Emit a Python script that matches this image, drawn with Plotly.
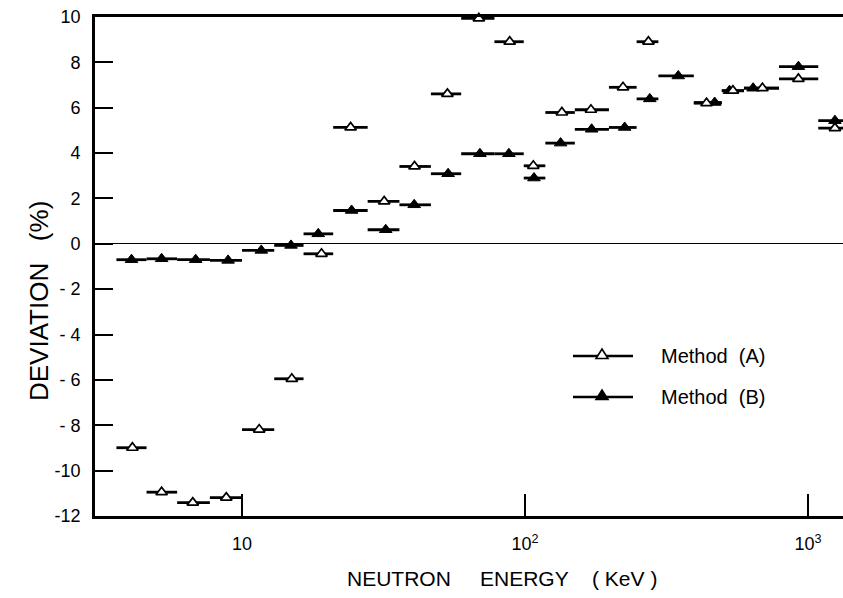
import plotly.graph_objects as go

# ---- data ----
bin_edges = [3.6, 4.6, 5.9, 7.7, 10, 13, 16.5, 21, 27.8, 36, 46.5, 59.5, 78, 99,
             118, 150, 198, 248, 296, 395, 496, 594, 790, 1087, 1430]

energy_a = [4.1, 5.2, 6.7, 8.8, 11.5, 15.0, 19.1, 24.2, 31.8, 40.7, 53.2, 68.7,
            88.3, 107, 135, 171, 222, 273, 348, 438, 543, 690, 925, 1245]
dev_a = [-8.99, -10.95, -11.41, -11.19, -8.19, -5.95, -0.44, 5.13, 1.87, 3.41,
         6.61, 9.94, 8.91, 3.44, 5.79, 5.91, 6.90, 8.91, 10.13, 6.20, 6.75,
         6.86, 7.27, 5.10]

energy_b = [4.07, 5.2, 6.86, 8.93, 11.7, 14.9, 18.6, 24.4, 32.2, 40.6, 53.5, 69.3,
            87.7, 107.6, 133.6, 172, 225, 276, 348, 468, 528, 640, 925, 1245]
dev_b = [-0.70, -0.66, -0.70, -0.73, -0.29, -0.07, 0.44, 1.47, 0.62, 1.72, 3.09,
         3.97, 3.97, 2.90, 4.44, 5.05, 5.13, 6.39, 7.40, 6.23, 6.75, 6.86, 7.81,
         5.43]

y_tickvals = [10, 8, 6, 4, 2, 0, -2, -4, -6, -8, -10, -12]
y_ticktext = ["10", "8", "6", "4", "2", "0", "- 2", "- 4", "- 6", "- 8", "-10", "-12"]
x_tickvals = [10, 100, 1000]
x_ticktext = ["10", "10<sup>2</sup>", "10<sup>3</sup>"]
legend_names = ["Method\u00a0\u00a0(A)", "Method\u00a0\u00a0(B)"]

FONT = "Liberation Sans, Arial, sans-serif"

# ---- layout geometry (pixels) ----
W, H = 843, 598
ML, MR, MT, MB = 95, 0, 17, 82
PW, PH = W - ML - MR, H - MT - MB


def px2paper_x(px):
    return (px - ML) / PW


def px2paper_y(py):
    return (H - MB - py) / PH


def errs(xs):
    lo = [x - bin_edges[i] for i, x in enumerate(xs)]
    hi = [bin_edges[i + 1] - x for i, x in enumerate(xs)]
    return lo, hi


lo_a, hi_a = errs(energy_a)
lo_b, hi_b = errs(energy_b)

fig = go.Figure()
fig.add_trace(go.Scatter(
    x=energy_b, y=dev_b, mode="markers", name=legend_names[1],
    marker=dict(symbol="triangle-up", size=11, color="black",
                line=dict(color="black", width=1)),
    error_x=dict(type="data", symmetric=False, array=hi_b, arrayminus=lo_b,
                 width=0, thickness=2.8, color="black"),
    cliponaxis=False, showlegend=False))
fig.add_trace(go.Scatter(
    x=energy_a, y=dev_a, mode="markers", name=legend_names[0],
    marker=dict(symbol="triangle-up", size=10, color="white",
                line=dict(color="black", width=1.7)),
    error_x=dict(type="data", symmetric=False, array=hi_a, arrayminus=lo_a,
                 width=0, thickness=2.8, color="black"),
    cliponaxis=False, showlegend=False))

# ---- hand-drawn style legend ----
shapes = []
annotations = []
for i, (py, fill) in enumerate([(356, "white"), (397, "black")]):
    shapes.append(dict(type="line", xref="paper", yref="paper",
                       x0=px2paper_x(573), x1=px2paper_x(633),
                       y0=px2paper_y(py), y1=px2paper_y(py),
                       line=dict(color="black", width=2.6)))
    shapes.append(dict(type="path", xref="paper", yref="paper",
                       xsizemode="pixel", ysizemode="pixel",
                       xanchor=px2paper_x(602), yanchor=px2paper_y(py),
                       path="M-6,-2.5 L6,-2.5 L0,7 Z",
                       fillcolor=fill, line=dict(color="black", width=1.6)))
    annotations.append(dict(text=legend_names[i], xref="paper", yref="paper",
                            x=px2paper_x(659), y=px2paper_y(py),
                            xanchor="left", yanchor="middle", showarrow=False,
                            font=dict(family=FONT, size=20, color="black")))

annotations.append(dict(
    text="NEUTRON\u00a0\u00a0\u00a0\u00a0\u00a0ENERGY\u00a0\u00a0\u00a0\u00a0(\u00a0KeV\u00a0)",
    xref="paper", yref="paper", x=px2paper_x(502), y=px2paper_y(578),
    xanchor="center", yanchor="middle", showarrow=False,
    font=dict(family=FONT, size=21, color="black")))
annotations.append(dict(
    text="DEVIATION\u00a0\u00a0\u00a0(%)", textangle=-90,
    xref="paper", yref="paper", x=px2paper_x(39), y=px2paper_y(301),
    xanchor="center", yanchor="middle", showarrow=False,
    font=dict(family=FONT, size=26, color="black")))

fig.update_layout(
    width=W, height=H,
    margin=dict(l=ML, r=MR, t=MT, b=MB, pad=0),
    paper_bgcolor="white", plot_bgcolor="white",
    font=dict(family=FONT, color="black"),
    shapes=shapes, annotations=annotations,
    showlegend=False,
)
fig.update_xaxes(
    type="log", range=[0.4806, 3.1237],
    tickvals=x_tickvals, ticktext=x_ticktext,
    ticks="inside", ticklen=22, tickwidth=1.5, tickcolor="black",
    showline=True, linewidth=2.6, linecolor="black", mirror=True,
    showgrid=False, zeroline=False,
    tickfont=dict(family=FONT, size=18, color="black"),
    ticklabelstandoff=10,
)
fig.update_yaxes(
    range=[-12, 10],
    tickvals=y_tickvals, ticktext=y_ticktext,
    ticks="inside", ticklen=18, tickwidth=2, tickcolor="black",
    showline=True, linewidth=2.6, linecolor="black", mirror=False,
    showgrid=False, zeroline=True, zerolinewidth=1.2, zerolinecolor="black",
    tickfont=dict(family=FONT, size=18, color="black"),
    ticklabelstandoff=8,
)

fig.write_html("out.html")
